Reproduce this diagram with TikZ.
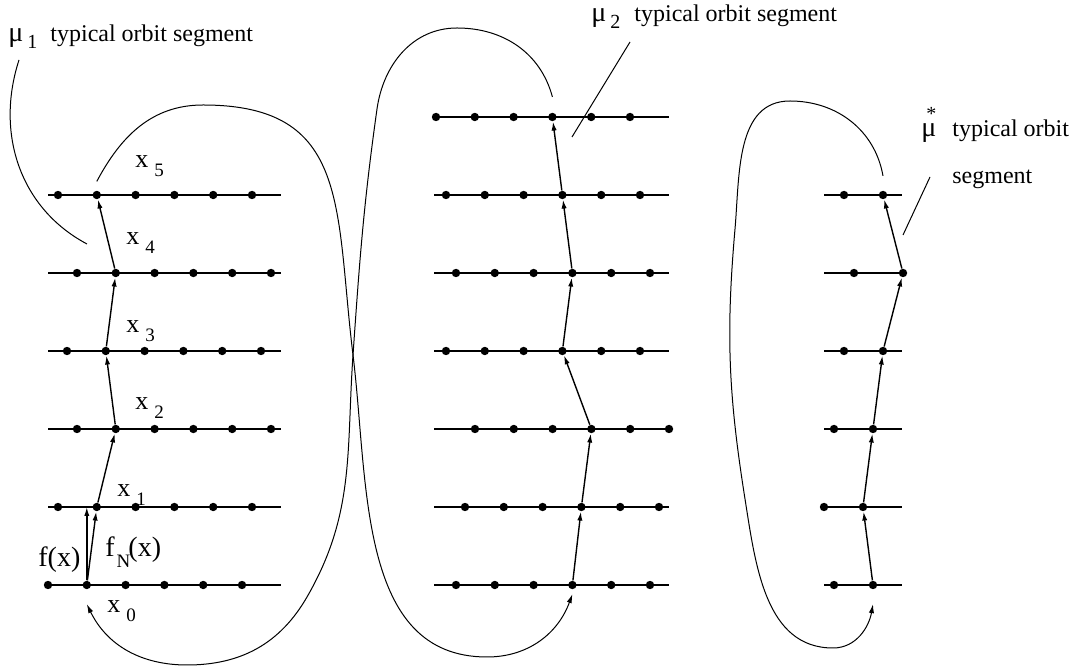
\documentclass[tikz,border=0pt]{standalone}
\usepackage{fontspec}
\setmainfont{Liberation Serif}
\usetikzlibrary{arrows.meta,positioning}
\newcommand{\xs}[1]{x\kern3pt\raisebox{-4.5pt}{\fontsize{9.5}{11}\selectfont #1}}
\newcommand{\mug}{{\fontsize{14}{16}\selectfont μ}}
\newcommand{\mus}[1]{\mug\kern2pt\raisebox{-3.5pt}{\fontsize{10}{12}\selectfont #1}}
\tikzset{
  dot/.style={circle,fill,inner sep=0pt,minimum size=4.2pt},
  rung/.style={line width=0.6pt},
  orbit/.style={line width=0.7pt,-{Latex[length=4.5pt,width=2.6pt]}},
  swoop/.style={line width=0.5pt,-{Latex[length=4.5pt,width=2.6pt]}},
  leader/.style={line width=0.5pt},
  lab/.style={anchor=base west,inner sep=0pt,font=\fontsize{13}{15}\selectfont},
  flab/.style={anchor=base west,inner sep=0pt,font=\fontsize{14}{16}\selectfont},
  seglabel/.style={anchor=base west,inner sep=0pt,font=\fontsize{12}{14}\selectfont}
}
\begin{document}
\begin{tikzpicture}[x=0.5pt,y=0.5pt]
	\useasboundingbox (0,0) rectangle (1076,669);
	% left column
	\foreach \r/\s in {0/48,1/58,2/77,3/67,4/77,5/58}{
		\draw[rung] (48,{84+78*\r}) -- (281,{84+78*\r});
		\foreach \i in {1,...,6}
			\node[dot] (L\r-\i) at ({\s+38.8*(\i-1)},{84+78*\r}) {};
	}
	% middle column
	\foreach \r/\s in {0/456,1/465,2/475,3/446,4/456,5/446,6/436}{
		\draw[rung] (434,{84+78*\r}) -- (669,{84+78*\r});
		\foreach \i in {1,...,6}
			\node[dot] (M\r-\i) at ({\s+38.8*(\i-1)},{84+78*\r}) {};
	}
	% right column
	\foreach \r/\a/\b in {0/834/873,1/824/863,2/834/873,3/844/883,4/854/903,5/844/883}{
		\draw[rung] (824,{84+78*\r}) -- (902,{84+78*\r});
		\node[dot] (R\r-1) at (\a,{84+78*\r}) {};
		\node[dot] (R\r-2) at (\b,{84+78*\r}) {};
	}
	% orbit segments
	\foreach \a/\b in {0/1,1/2,2/3,3/4,4/5}{
		\draw[orbit] (L\a-2) -- (L\b-2);
		\draw[orbit] (R\a-2) -- (R\b-2);
	}
	\foreach \a/\b in {0/1,1/2,2/3,3/4,4/5,5/6}
		\draw[orbit] (M\a-4) -- (M\b-4);
	\draw[orbit] (L0-2) -- (L0-2 |- L1-1);
	% labels
	\node[lab] (x0) at (107,56) {\xs{0}};
	\node[lab] (x1) at (117,172) {\xs{1}};
	\node[lab] (x2) at (135,259) {\xs{2}};
	\node[lab] (x3) at (126,336) {\xs{3}};
	\node[lab] (x4) at (126,424) {\xs{4}};
	\node[lab] (x5) at (135,501) {\xs{5}};
	\node[flab] (fx) at (38,102) {f(x)};
	\node[flab] (fNx) at (105,112) {f\kern1pt\raisebox{-5pt}{\fontsize{9.5}{11}\selectfont N}\kern-1pt(x)};
	\node[seglabel] (mu1) at (8,627) {\mus{1}\hspace{6.5pt}typical orbit segment};
	\node[seglabel] (mu2) at (591,647) {\mus{2}\hspace{7pt}typical orbit segment};
	\node[seglabel] (mus) at (921,532) {\mug\kern-5pt\raisebox{8pt}{\fontsize{10}{12}\selectfont *}\hspace{8pt}typical orbit};
	\node[seglabel] (segm) at (952,485) {segment};
	% leaders
	\coordinate (l1a) at (19,609);
	\coordinate (l1b) at (87,425);
	\coordinate (l2a) at (630,627);
	\coordinate (l2b) at (572,532);
	\coordinate (l3a) at (930,492);
	\coordinate (l3b) at (903,434);
	\draw[leader] (l1a) to[out=252,in=152] (l1b);
	\draw[leader] (l2a) -- (l2b);
	\draw[leader] (l3a) -- (l3b);
	% return loops
	\coordinate[above=4.5pt of L5-2] (aS);
	\coordinate[below=2.25pt of M0-4] (aE);
	\coordinate[above=7.75pt of M6-4] (bS);
	\coordinate[below=7.25pt of L0-2] (bE);
	\coordinate[above=7.25pt of R5-2] (cS);
	\coordinate[below=7.25pt of R0-2] (cE);
	\coordinate (cross) at (353,314);
	\coordinate (aTop) at (203,564);
	\coordinate (aBot) at (487,12);
	\coordinate (bTop) at (457,641);
	\coordinate (bP) at (377,560);
	\coordinate (bQ) at (307,72);
	\coordinate (bBot) at (187,4);
	\coordinate (cTop) at (790,568);
	\coordinate (cW1) at (735,440);
	\coordinate (cW2) at (745,170);
	\coordinate (cBot) at (833,21);
	\draw[swoop] (aS) to[out=62,in=180] (aTop) to[out=0,in=97,looseness=1.3] (cross)
		to[out=-83,in=180] (aBot) to[out=0,in=-110] (aE);
	\draw[swoop] (bS) to[out=105,in=0] (bTop) to[out=180,in=82] (bP) to[out=262,in=86] (cross)
		to[out=266,in=60] (bQ) to[out=240,in=0] (bBot) to[out=180,in=-64] (bE);
	\draw[swoop] (cS) to[out=100,in=0] (cTop) to[out=180,in=85] (cW1) to[out=265,in=99] (cW2)
		to[out=-81,in=180] (cBot) to[out=0,in=-100] (cE);
\end{tikzpicture}
\end{document}
